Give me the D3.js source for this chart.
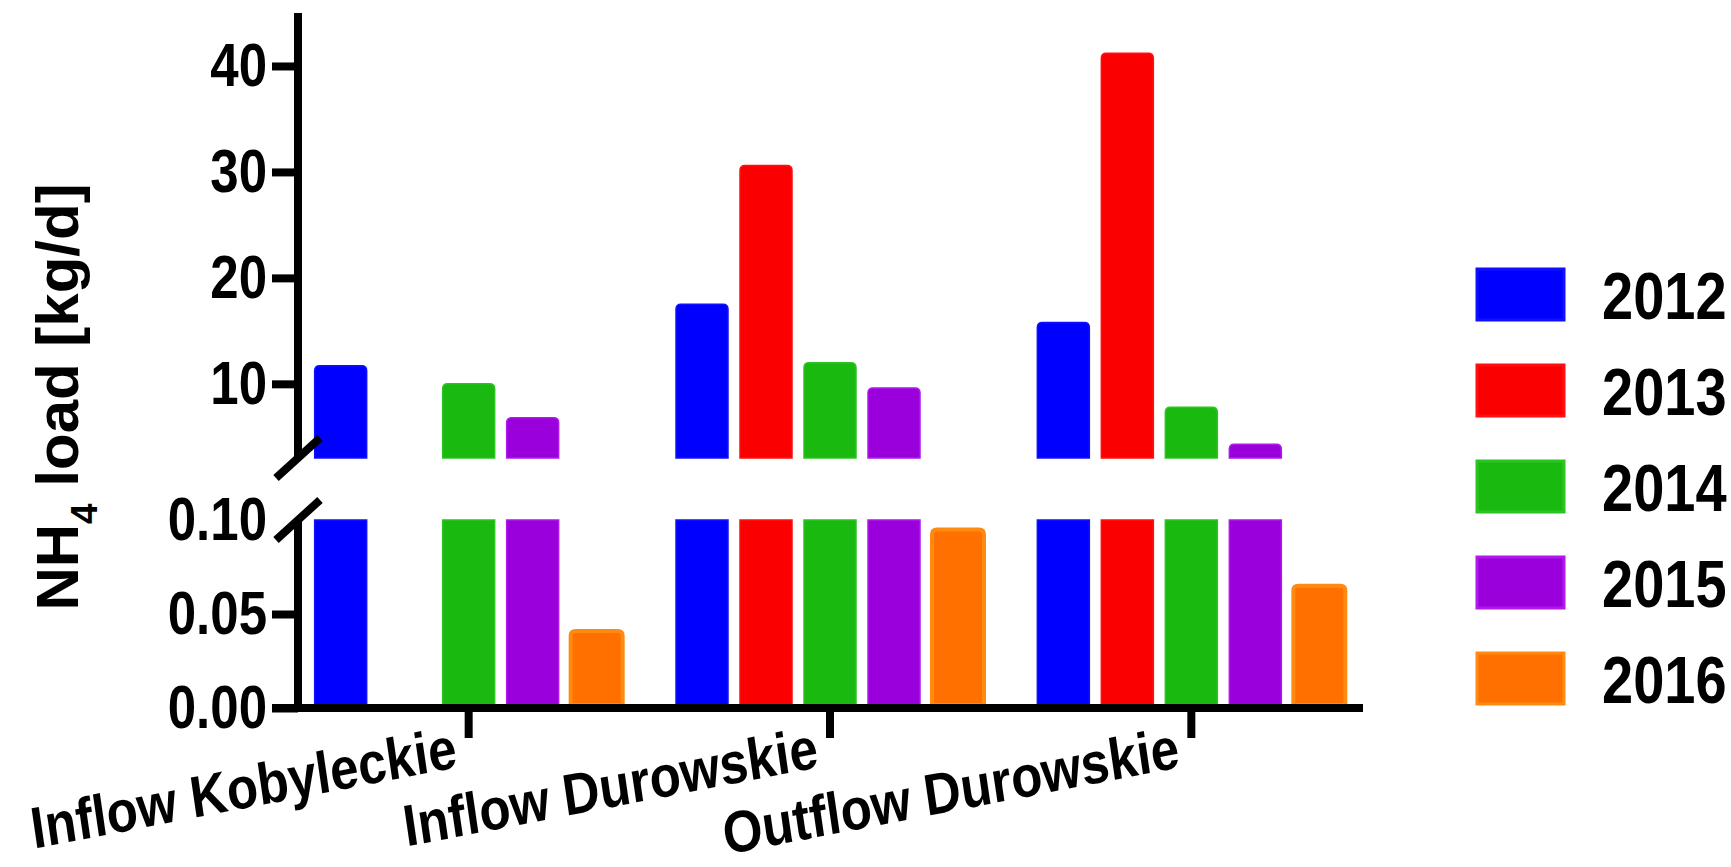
<!DOCTYPE html>
<html>
<head>
<meta charset="utf-8">
<script src="https://cdn.jsdelivr.net/npm/d3@7"></script>
<style>
  html, body { margin: 0; padding: 0; background: #fff; }
  svg { display: block; }
  text { font-family: "Liberation Sans", Arial, Helvetica, sans-serif; font-weight: bold; fill: #000; }
</style>
</head>
<body>
<svg id="chart" width="1731" height="867"></svg>
<script>
// Sites on the x axis
const categories = ["Inflow Kobyleckie", "Inflow Durowskie", "Outflow Durowskie"];
// Sampling years (series)
const years = ["2012", "2013", "2014", "2015", "2016"];
// NH4 load [kg/d] per site, one array per year
const load2012 = [11.7, 17.5, 15.8];
const load2013 = [0, 30.6, 41.2];
const load2014 = [10.0, 12.0, 7.8];
const load2015 = [6.8, 9.6, 4.3];
const load2016 = [0.041, 0.095, 0.065];
const seriesValues = [load2012, load2013, load2014, load2015, load2016];
// Tick labels for the two axis segments
const upperTicks = [10, 20, 30, 40];
const lowerTicks = [0.00, 0.05, 0.10];
// Series colours
const fills   = ["#0000ff", "#fa0000", "#19b90f", "#9a00dc", "#ff7000"];
const strokes = ["#1010ff", "#ff1010", "#2cc422", "#b018ec", "#ff8a12"];

const svg = d3.select("#chart");
const fontFamily = "'Liberation Sans', Arial, sans-serif";
const textStretch = 1.2;   // glyphs are drawn slightly taller than wide

// Broken y axis: small values below, large values above
const upperDomain = [3, 45];
const lowerDomain = [0, 0.10];
const yUpper = d3.scaleLinear().domain(upperDomain).range([458, 13]);
const yLower = d3.scaleLinear().domain(lowerDomain).range([708, 520]);

const x = d3.scaleBand().domain(categories).range([288, 1372]).padding(0);
const xYear = d3.scaleBand().domain(years).range([-154, 154]).paddingInner(0.1875).paddingOuter(0);
const axisX = 298;
const lineW = 8;

// Bar shape with optionally rounded top corners
function barPath(x0, w, yTop, yBottom, rounded) {
  const r = rounded ? Math.min(5, (yBottom - yTop) / 2) : 0;
  return `M${x0},${yBottom}V${yTop + r}` +
    (r ? `Q${x0},${yTop} ${x0 + r},${yTop}` : "") +
    `H${x0 + w - r}` +
    (r ? `Q${x0 + w},${yTop} ${x0 + w},${yTop + r}` : "") +
    `V${yBottom}Z`;
}

const bars = [];
years.forEach((yr, si) => {
  categories.forEach((cat, ci) => {
    const v = seriesValues[si][ci];
    if (!(v > 0)) return;
    bars.push({ yr, si, cat, v });
  });
});

const gBars = svg.append("g");
// lower segment
gBars.selectAll("path.low").data(bars).join("path")
  .attr("class", "low")
  .attr("d", d => {
    const top = Math.min(d.v, lowerDomain[1]);
    return barPath(x(d.cat) + x.bandwidth() / 2 + xYear(d.yr), xYear.bandwidth(),
      yLower(top), yLower(0) - lineW / 2 + 1, d.v <= lowerDomain[1]);
  })
  .attr("fill", d => fills[d.si])
  .attr("stroke", d => strokes[d.si])
  .attr("stroke-width", d => d.si === 4 ? 4 : 1.5);
// upper segment
gBars.selectAll("path.up").data(bars.filter(d => d.v > upperDomain[0])).join("path")
  .attr("class", "up")
  .attr("d", d => barPath(x(d.cat) + x.bandwidth() / 2 + xYear(d.yr), xYear.bandwidth(),
      yUpper(d.v), yUpper(upperDomain[0]), true))
  .attr("fill", d => fills[d.si])
  .attr("stroke", d => strokes[d.si])
  .attr("stroke-width", 1.5);

// y axis ticks and labels
function styleAxis(g) {
  g.select(".domain").remove();
  g.selectAll(".tick line").attr("stroke", "#000").attr("stroke-width", lineW);
  g.selectAll(".tick text").attr("font-size", 51).attr("font-weight", "bold")
    .attr("font-family", fontFamily).attr("fill", "#000")
    .attr("transform", `scale(1,${textStretch})`);
}
svg.append("g").attr("transform", `translate(${axisX},0)`)
  .call(d3.axisLeft(yUpper).tickValues(upperTicks).tickSize(26).tickPadding(5).tickFormat(d3.format("d")))
  .call(styleAxis);
const gLow = svg.append("g").attr("transform", `translate(${axisX},0)`)
  .call(d3.axisLeft(yLower).tickValues(lowerTicks).tickSize(26).tickPadding(5).tickFormat(d3.format(".2f")))
  .call(styleAxis);
gLow.selectAll(".tick").filter(d => d === lowerDomain[1]).select("line").remove();

// axis lines
svg.append("line").attr("x1", axisX).attr("x2", axisX)
  .attr("y1", yUpper.range()[1]).attr("y2", yUpper.range()[0])
  .attr("stroke", "#000").attr("stroke-width", lineW);
svg.append("line").attr("x1", axisX).attr("x2", axisX)
  .attr("y1", yLower.range()[1]).attr("y2", yLower(0) + lineW / 2)
  .attr("stroke", "#000").attr("stroke-width", lineW);

// break marks
[yUpper.range()[0], yLower.range()[1]].forEach(yb => {
  svg.append("line")
    .attr("x1", axisX - 22).attr("y1", yb + 20)
    .attr("x2", axisX + 22).attr("y2", yb - 20)
    .attr("stroke", "#000").attr("stroke-width", lineW);
});

// x axis
const gx = svg.append("g").attr("transform", `translate(0,${yLower(0)})`)
  .call(d3.axisBottom(x).tickSize(30).tickSizeOuter(0));
gx.select(".domain").remove();
gx.selectAll(".tick line").attr("stroke", "#000").attr("stroke-width", lineW);
gx.selectAll(".tick text")
  .attr("x", 0).attr("y", 0).attr("dy", 0)
  .attr("text-anchor", "end")
  .attr("transform", "translate(-10,59) scale(1,1.15) rotate(-9.5)")
  .attr("font-size", 51).attr("font-weight", "bold")
  .attr("font-family", fontFamily).attr("fill", "#000");
svg.append("line").attr("x1", axisX - 26).attr("x2", 1363)
  .attr("y1", yLower(0)).attr("y2", yLower(0))
  .attr("stroke", "#000").attr("stroke-width", lineW);

// y axis title
const title = svg.append("text")
  .attr("transform", "translate(78,397) rotate(-90)")
  .attr("text-anchor", "middle")
  .attr("font-size", 60);
title.append("tspan").text("NH");
title.append("tspan").text("4").attr("font-size", 37).attr("dy", 19);
title.append("tspan").text(" load [kg/d]").attr("dy", -19);

// legend
const legend = svg.append("g").attr("transform", "translate(1477,269)");
const item = legend.selectAll("g").data(years).join("g")
  .attr("transform", (d, i) => `translate(0,${i * 96})`);
item.append("rect").attr("width", 87).attr("height", 51)
  .attr("fill", (d, i) => fills[i]).attr("stroke", (d, i) => strokes[i]).attr("stroke-width", 3);
item.append("text")
  .attr("transform", `translate(125,25.5) scale(1,${textStretch})`)
  .attr("dy", "0.36em")
  .attr("font-size", 56).text(d => d);
</script>
</body>
</html>
